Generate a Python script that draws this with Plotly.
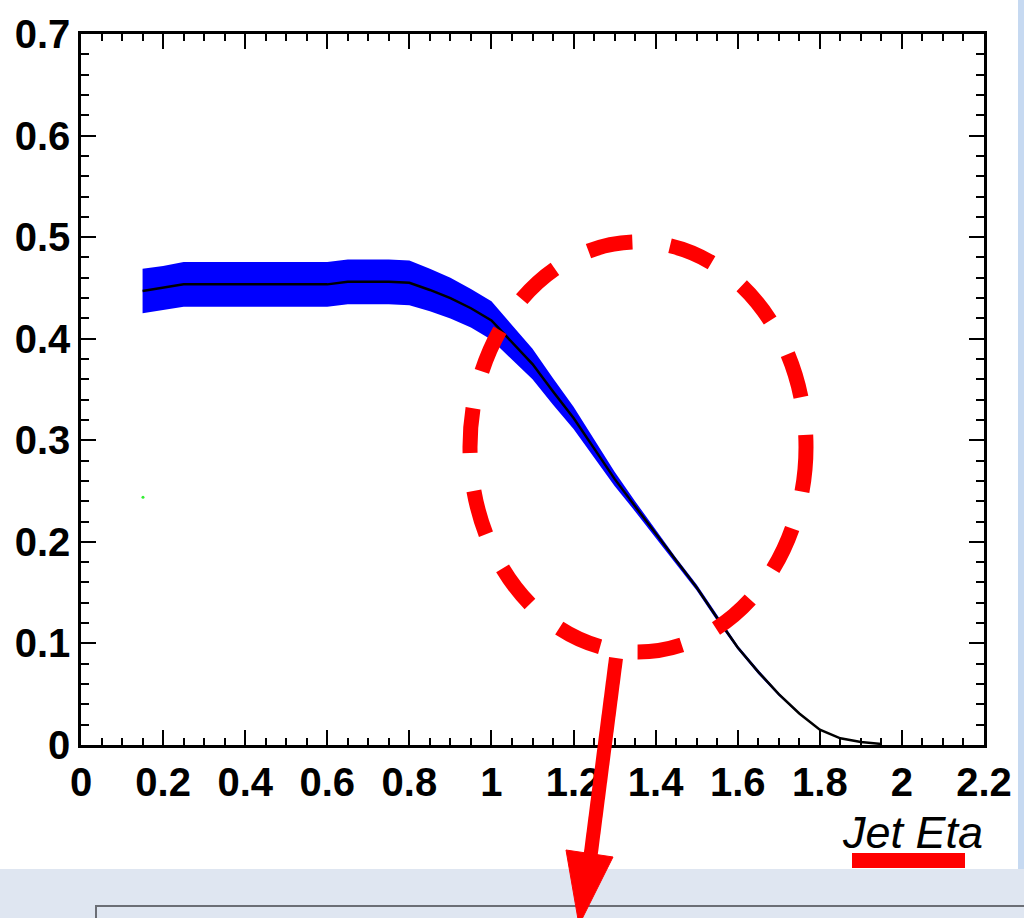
import plotly.graph_objects as go

# ---- data ----
eta = [0.15, 0.20, 0.25, 0.30, 0.35, 0.40, 0.45, 0.50, 0.55, 0.60, 0.65, 0.70,
       0.75, 0.80, 0.85, 0.90, 0.95, 1.00, 1.05, 1.10, 1.15, 1.20, 1.25, 1.30,
       1.35, 1.40, 1.45, 1.50, 1.55, 1.60, 1.65, 1.70, 1.75, 1.80, 1.85, 1.90, 1.95]
efficiency = [0.447, 0.450, 0.4535, 0.4535, 0.4535, 0.4535, 0.4535, 0.4535, 0.4535,
              0.4535, 0.456, 0.456, 0.456, 0.455, 0.448, 0.440, 0.430, 0.418, 0.397,
              0.375, 0.348, 0.322, 0.292, 0.262, 0.235, 0.208, 0.181, 0.155, 0.125,
              0.096, 0.072, 0.050, 0.031, 0.015, 0.0066, 0.003, 0.001]
band_halfwidth = [0.022, 0.0215, 0.022, 0.022, 0.022, 0.022, 0.022, 0.022, 0.022,
                  0.022, 0.022, 0.022, 0.022, 0.022, 0.021, 0.020, 0.019, 0.019, 0.017,
                  0.015, 0.013, 0.011, 0.009, 0.007, 0.005, 0.004, 0.003, 0.003, 0.003,
                  0.002, 0.002, 0.0015, 0.001, 0.0, 0.0, 0.0, 0.0]
green_eta = [0.151]
green_val = [0.244]

x_ticks = [0, 0.2, 0.4, 0.6, 0.8, 1, 1.2, 1.4, 1.6, 1.8, 2, 2.2]
x_ticklabels = ["0", "0.2", "0.4", "0.6", "0.8", "1", "1.2", "1.4", "1.6", "1.8", "2", "2.2"]
y_ticks = [0, 0.1, 0.2, 0.3, 0.4, 0.5, 0.6, 0.7]
y_ticklabels = ["0", "0.1", "0.2", "0.3", "0.4", "0.5", "0.6", "0.7"]

upper = [v + e for v, e in zip(efficiency, band_halfwidth)]
lower = [v - e for v, e in zip(efficiency, band_halfwidth)]

W, H = 1024, 918
L, R, T, B = 81, 984, 34, 745  # plot-area pixel edges


def px(x):
    return (x - L) / (R - L)


def py(y):
    return (B - y) / (B - T)


fig = go.Figure()
fig.add_trace(go.Scatter(x=eta, y=upper, mode="lines", line=dict(color="#0000ff", width=0),
                         showlegend=False, hoverinfo="skip"))
fig.add_trace(go.Scatter(x=eta, y=lower, mode="lines", line=dict(color="#0000ff", width=0),
                         fill="tonexty", fillcolor="#0000ff",
                         showlegend=False, hoverinfo="skip"))
fig.add_trace(go.Scatter(x=eta, y=efficiency, mode="lines", line=dict(color="black", width=2.5),
                         showlegend=False))
fig.add_trace(go.Scatter(x=green_eta, y=green_val, mode="markers",
                         marker=dict(color="#33ee33", size=3), showlegend=False))

tickfont = dict(family="Liberation Sans, Arial", size=40, color="black", weight="bold")

fig.update_xaxes(range=[0, 2.2], tickvals=x_ticks, ticktext=x_ticklabels,
                 showgrid=False, zeroline=False, showline=True, linecolor="black",
                 linewidth=2.5, mirror="ticks", ticks="inside", ticklen=15, tickwidth=2,
                 tickcolor="black", tickfont=tickfont,
                 minor=dict(ticks="inside", dtick=0.05, ticklen=7, tickwidth=2,
                            tickcolor="black", showgrid=False))
fig.update_yaxes(range=[0, 0.7], tickvals=y_ticks, ticktext=y_ticklabels,
                 showgrid=False, zeroline=False, showline=True, linecolor="black",
                 linewidth=2.5, mirror="ticks", ticks="inside", ticklen=15, tickwidth=2,
                 tickcolor="black", tickfont=tickfont,
                 minor=dict(ticks="inside", dtick=0.02, ticklen=8, tickwidth=2,
                            tickcolor="black", showgrid=False))

shapes = []
# slide background strips
shapes.append(dict(type="rect", xref="paper", yref="paper", x0=px(0), x1=px(W),
                   y0=py(869), y1=py(H + 5), fillcolor="#dfe6f1", line=dict(width=0),
                   layer="below"))
shapes.append(dict(type="rect", xref="paper", yref="paper", x0=px(1018), x1=px(W + 5),
                   y0=py(-5), y1=py(869), fillcolor="#c6d9f1", line=dict(width=0),
                   layer="below"))
shapes.append(dict(type="rect", xref="paper", yref="paper", x0=px(96), x1=px(W + 20),
                   y0=py(906), y1=py(H + 20), fillcolor="#dfe6f1",
                   line=dict(color="#6b6e75", width=2), layer="below"))
# red dashed ellipse
shapes.append(dict(type="circle", xref="paper", yref="paper", x0=px(470), x1=px(806),
                   y0=py(652), y1=py(242), line=dict(color="#ff0000", width=15, dash="45px,38px")))
# red arrow
shapes.append(dict(type="line", xref="paper", yref="paper", x0=px(616), y0=py(658),
                   x1=px(590), y1=py(860), line=dict(color="#ff0000", width=14)))
shapes.append(dict(type="path", xref="paper", yref="paper",
                   path="M {:.5f},{:.5f} L {:.5f},{:.5f} L {:.5f},{:.5f} Z".format(
                       px(566), py(850), px(613), py(857), px(579), py(925)),
                   fillcolor="#ff0000", line=dict(color="#ff0000", width=1)))
# red underline under axis title
shapes.append(dict(type="rect", xref="paper", yref="paper", x0=px(852), x1=px(965),
                   y0=py(868), y1=py(853), fillcolor="#ff0000", line=dict(width=0)))

fig.update_layout(
    width=W, height=H,
    margin=dict(l=L, r=W - R, t=T, b=H - B, pad=0),
    paper_bgcolor="white", plot_bgcolor="white",
    shapes=shapes,
    annotations=[dict(text="Jet Eta", xref="paper", yref="paper", x=px(985), y=py(832),
                      xanchor="right", yanchor="middle", showarrow=False,
                      font=dict(family="Liberation Sans, Arial", size=45, color="black",
                                style="italic"))],
)

fig.write_html("out.html")
